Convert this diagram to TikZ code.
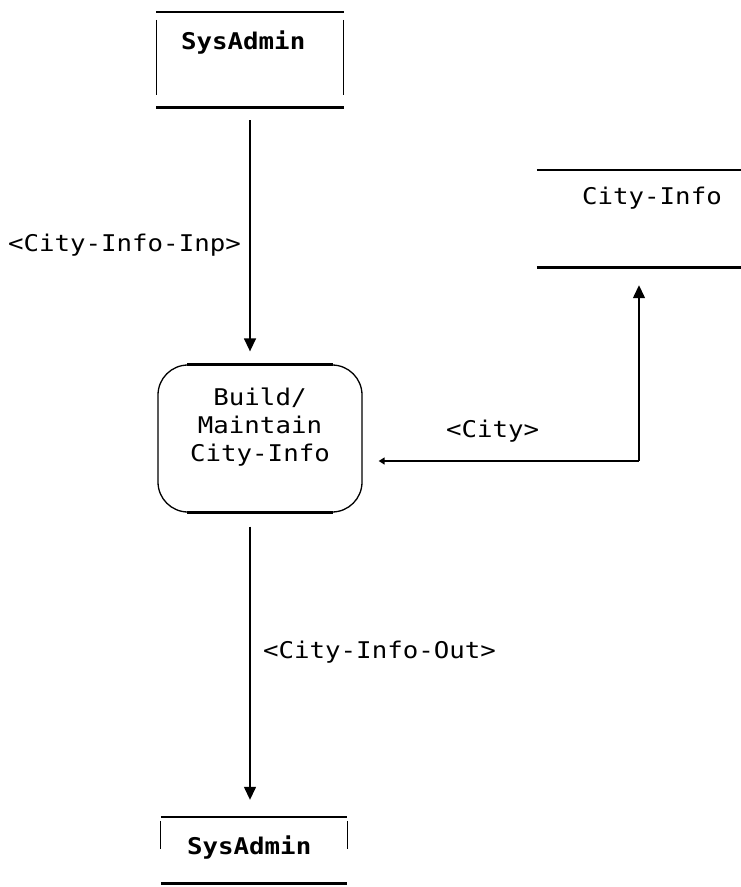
\documentclass[tikz,border=0pt]{standalone}
\usepackage{fontspec}
\setmonofont{DejaVu Sans Mono}
\usetikzlibrary{arrows.meta}
\newcommand{\wtx}[1]{\scalebox{1.12}[1]{#1}}
\begin{document}
\begin{tikzpicture}[x=1pt,y=-1pt,
  lbl/.style={font=\ttfamily\fontsize{23}{28}\selectfont, inner sep=0pt},
  boldlbl/.style={font=\ttfamily\bfseries\fontsize{23}{28}\selectfont, inner sep=0pt},
  edgethick/.style={line width=2.6pt},
  edgethin/.style={line width=1.2pt},
  flow/.style={line width=1.4pt, -{Triangle[width=12pt,length=13pt]}},
  boxshape/.style={inner sep=0pt, draw=none},
]
\useasboundingbox (0,0) rectangle (741,887);

% top external entity
\node[boxshape, minimum width=187pt, minimum height=95pt] (sa1) at (250,59.5) {};
\node[boldlbl, anchor=base west] (sa1t) at (181,49) {\wtx{SysAdmin}};
\draw[edgethick] (sa1.north west) -- (sa1.north east);
\draw[edgethick] (sa1.south west) -- (sa1.south east);
\draw[edgethin] ([yshift=-8pt]sa1.north west) -- ([yshift=12pt]sa1.south west);
\draw[edgethin] ([yshift=-8pt]sa1.north east) -- ([yshift=12pt]sa1.south east);

% process
\node[draw, line width=1.3pt, rounded corners=30pt, minimum width=204pt, minimum height=147pt, inner sep=0pt] (proc) at (260,438.5) {};
\draw[edgethick] ([xshift=30pt]proc.north west) -- ([xshift=-30pt]proc.north east);
\draw[edgethick] ([xshift=30pt]proc.south west) -- ([xshift=-30pt]proc.south east);
\node[lbl, align=center] (proct) at (260,427) {\wtx{Build/}\\\wtx{Maintain}\\\wtx{City-Info}};

% data store
\node[boxshape, minimum width=204pt, minimum height=97pt] (store) at (639,218.5) {};
\draw[edgethick] (store.north west) -- (store.north east);
\draw[edgethick] (store.south west) -- (store.south east);
\node[lbl, anchor=base west] (storet) at (582,204) {\wtx{City-Info}};

% bottom external entity
\node[boxshape, minimum width=186pt, minimum height=66pt] (sa2) at (254,850) {};
\node[boldlbl, anchor=base west] (sa2t) at (187,854) {\wtx{SysAdmin}};
\draw[edgethick] (sa2.north west) -- (sa2.north east);
\draw[edgethick] (sa2.south west) -- (sa2.south east);
\draw[edgethin] ([yshift=-4pt]sa2.north west) -- ([yshift=34pt]sa2.south west);
\draw[edgethin] ([yshift=-4pt]sa2.north east) -- ([yshift=34pt]sa2.south east);

% flows
\draw[flow, shorten <=13pt, shorten >=13pt] (sa1.south) -- (sa1.south |- proc.north);
\draw[flow, shorten <=14pt, shorten >=17pt] (proc.south -| sa1.south) -- (sa2.north -| sa1.south);
\coordinate (bend) at (639,461);
\draw[line width=2.4pt, {Triangle[width=7pt,length=6pt]}-, shorten <=16pt] (proc.east |- bend) -- (bend);
\draw[flow, shorten >=18pt] (bend) -- (store.south);

% labels
\node[lbl, anchor=base east] (lin) at (241,251) {\wtx{<City-Info-Inp>}};
\node[lbl, anchor=base west] (lcity) at (446,437) {\wtx{<City>}};
\node[lbl, anchor=base west] (lout) at (263,658) {\wtx{<City-Info-Out>}};
\end{tikzpicture}
\end{document}
